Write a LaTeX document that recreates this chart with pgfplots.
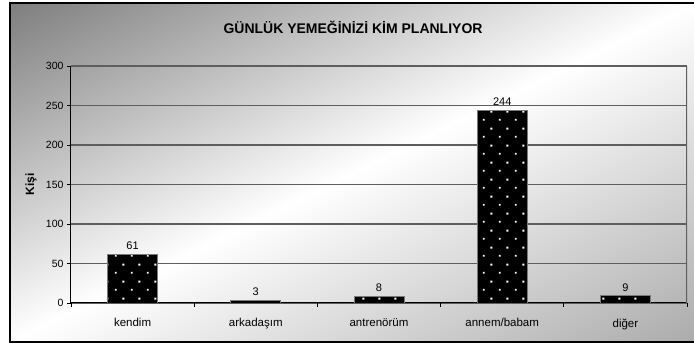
\documentclass[border=0pt]{standalone}
\usepackage{fontspec}
\setmainfont{Liberation Sans}
\usepackage{pgfplots}
\pgfplotsset{compat=1.18}
\usetikzlibrary{patterns.meta}

\definecolor{gridgray}{HTML}{5E5E5E}
\definecolor{baredge}{HTML}{7A7A7A}

% sparse staggered white dots for the bars
\tikzdeclarepattern{
  name=bardots,
  type=uncolored,
  bounding box={(0pt,0pt) and (16pt,17pt)},
  tile size={(16pt,17pt)},
  code={
    \fill (3pt,3.5pt) rectangle (5pt,5.5pt);
    \fill (11pt,12pt) rectangle (13pt,14pt);
  }
}

% diagonal background: dark grey upper left, white band, grey lower right
\pgfdeclarefunctionalshading{bgdiag}{\pgfpointorigin}{\pgfpoint{100bp}{100bp}}{}{
  sub 50 add 100 div
  dup 0 lt {pop 0} if
  dup 1 gt {pop 1} if
  dup 0.5 lt
    {2 mul 0.506 mul 0.494 add}
    {0.5 sub 2 mul 0.33 mul 1 exch sub}
  ifelse
  dup dup
}

\begin{document}
\begin{tikzpicture}
\useasboundingbox (0,0) rectangle (694pt,345pt);
\fill[white] (0,0) rectangle (694pt,345pt);
\shade[shading=bgdiag] (10pt,3pt) rectangle (697pt,342pt);
\draw[line width=1.5pt] (10pt,3pt) rectangle (697pt,342pt);
\node[font=\bfseries\fontsize{14}{16}\selectfont] at (353pt,318pt)
  {GÜNLÜK YEMEĞİNİZİ KİM PLANLIYOR};

\begin{axis}[
  at={(71pt,42pt)}, anchor=south west,
  width=616pt, height=237pt, scale only axis,
  xmin=-0.5, xmax=4.5, ymin=0, ymax=300,
  axis x line*=bottom, axis y line*=left,
  axis line style={black, line width=1pt},
  tick align=outside,
  xtick={0,...,4},
  xticklabels={kendim, arkadaşım, antrenörüm, annem/babam, diğer},
  major x tick style={draw=none},
  minor xtick={-0.5,0.5,...,4.5},
  minor tick length=4pt,
  minor x tick style={black, line width=0.8pt},
  ytick={0,50,...,300},
  major tick length=4pt,
  y tick style={black, line width=0.8pt},
  ymajorgrids,
  grid style={gridgray, line width=1.2pt},
  /pgf/number format/assume math mode=true,
  tick label style={font=\fontsize{10.5}{12}\selectfont, black},
  xticklabel style={font=\fontsize{11.5}{13}\selectfont, yshift=-8pt},
  ylabel={Kişi},
  ylabel style={font=\bfseries\fontsize{12}{14}\selectfont, at={(axis description cs:-0.065,0.5)}, anchor=center},
  ybar, bar width=50pt,
  nodes near coords,
  every node near coord/.append style={font=\fontsize{11}{13}\selectfont, black, yshift=1pt},
]
\addplot[fill=black, draw=baredge, line width=0.8pt,
  postaction={pattern=bardots, pattern color=white}]
  coordinates {(0,61) (1,3) (2,8) (3,244) (4,9)};
\draw[gridgray, line width=1.2pt] (rel axis cs:1,0) -- (rel axis cs:1,1);
\end{axis}
\end{tikzpicture}
\end{document}
